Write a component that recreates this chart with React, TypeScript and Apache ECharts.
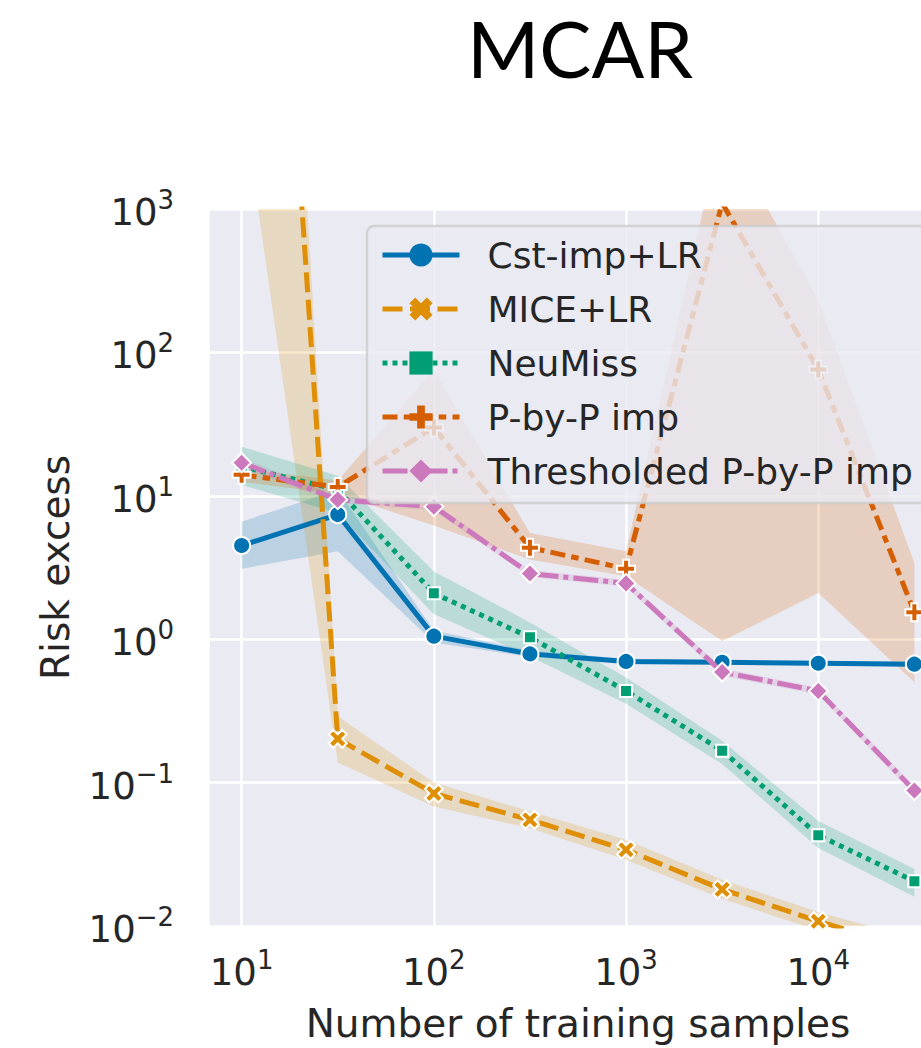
import React, { useEffect, useRef } from "react";
import * as echarts from "echarts";

// ---------- data ----------
const sampleSizes = [10, 31.62, 100, 316.2, 1000, 3162, 10000, 31623];
const seriesNames = ["Cst-imp+LR", "MICE+LR", "NeuMiss", "P-by-P imp", "Thresholded P-by-P imp"];
const seriesColors = ["#0173B2", "#DE8F05", "#029E73", "#D55E00", "#CC78BC"];

const cstMean = [4.5, 7.4, 1.05, 0.79, 0.7, 0.69, 0.68, 0.67];
const cstLow = [3.1, 4.1, 0.95, 0.75, 0.67, 0.665, 0.655, 0.645];
const cstHigh = [6.6, 11.0, 1.15, 0.83, 0.73, 0.715, 0.705, 0.695];

const miceMean = [1.8e9, 0.202, 0.084, 0.055, 0.034, 0.018, 0.0108, 0.0068];
const miceLow = [6300, 0.138, 0.068, 0.048, 0.029, 0.0155, 0.0093, 0.0056];
const miceHigh = [4.4e10, 0.29, 0.1, 0.063, 0.04, 0.021, 0.0125, 0.0082];

const neuMean = [16, 11, 2.09, 1.03, 0.435, 0.167, 0.043, 0.0205];
const neuLow = [11.9, 7.6, 1.49, 0.76, 0.354, 0.135, 0.035, 0.016];
const neuHigh = [22, 13.8, 2.97, 1.31, 0.54, 0.196, 0.054, 0.025];

const pbpMean = [14, 11.5, 30, 4.35, 3.1, 1100, 76, 1.54];
const pbpLow = [12.5, 10.3, 6.2, 3.6, 2.75, 0.97, 2.1, 0.5];
const pbpHigh = [15.5, 12.8, 75, 5.5, 4.1, 3800, 230, 3.4];

const thrMean = [17, 9.4, 8.4, 2.87, 2.45, 0.59, 0.435, 0.088];
const thrLow = [15.6, 8.9, 7.9, 2.72, 2.32, 0.555, 0.412, 0.082];
const thrHigh = [18.5, 9.9, 8.9, 3.03, 2.6, 0.625, 0.46, 0.094];

const xTickLabels = [10, 100, 1000, 10000];
const yTickLabels = [0.01, 0.1, 1, 10, 100, 1000];

const means = [cstMean, miceMean, neuMean, pbpMean, thrMean];
const lows = [cstLow, miceLow, neuLow, pbpLow, thrLow];
const highs = [cstHigh, miceHigh, neuHigh, pbpHigh, thrHigh];

// ---------- styles ----------
const PLUS = "path://M-10,-30H10V-10H30V10H10V30H-10V10H-30V-10H-10Z";
const XMARK =
  "path://M0,-14L14,-28L28,-14L14,0L28,14L14,28L0,14L-14,28L-28,14L-14,0L-28,-14L-14,-28Z";
const symbols = ["circle", XMARK, "rect", PLUS, "diamond"];
const symbolSizes = [17, 18, 12, 18, 19];
const dashes: any[] = ["solid", [20, 7.5], [5, 5], [15, 6.25, 7.5, 6.25], [25, 5, 5, 5]];

const TEXT = "#262626";
const FONT = "DejaVu Sans";

const supMap: Record<string, string> = { "-": "\u2212" };
function tickFormatter(list: number[]) {
  return (v: number) => {
    const hit = list.find((t) => Math.abs(Math.log10(t) - Math.log10(v)) < 1e-6);
    if (hit === undefined) return "";
    const e = Math.round(Math.log10(hit));
    const s = String(e)
      .split("")
      .map((c) => supMap[c] || c)
      .join("");
    return `{b|10}{s|${s}}`;
  };
}

const richTick = {
  b: { fontFamily: FONT, fontSize: 37, lineHeight: 44, verticalAlign: "bottom", color: TEXT },
  s: { fontFamily: FONT, fontSize: 26, lineHeight: 26, verticalAlign: "top", color: TEXT },
};

function hexToRgba(hex: string, a: number) {
  const n = parseInt(hex.slice(1), 16);
  return `rgba(${(n >> 16) & 255},${(n >> 8) & 255},${n & 255},${a})`;
}

export default function App() {
  const ref = useRef<HTMLDivElement>(null);

  useEffect(() => {
    if (!ref.current) return;
    const chart = echarts.init(ref.current, undefined, { renderer: "svg" });

    const bandSeries = seriesNames.map((name, k) => ({
      type: "custom",
      name: name + " band",
      coordinateSystem: "cartesian2d",
      clip: true,
      silent: true,
      z: 1,
      data: sampleSizes.map((x, i) => [x, lows[k][i], highs[k][i]]),
      encode: { x: 0, y: [1, 2] },
      renderItem: (params: any, api: any) => {
        if (params.dataIndex !== 0) return null;
        const up = sampleSizes.map((x, i) => api.coord([x, highs[k][i]]));
        const lo = sampleSizes.map((x, i) => api.coord([x, lows[k][i]])).reverse();
        return {
          type: "polygon",
          shape: { points: up.concat(lo) },
          style: { fill: hexToRgba(seriesColors[k], 0.2), stroke: "none" },
        };
      },
    }));

    const lineSeries = seriesNames.map((name, k) => ({
      type: "line",
      name,
      z: 2 + k * 0.01,
      data: sampleSizes.map((x, i) => [x, means[k][i]]),
      symbol: symbols[k],
      symbolSize: symbolSizes[k],
      showSymbol: true,
      showAllSymbol: true,
      clip: true,
      emphasis: { disabled: true },
      lineStyle: { color: seriesColors[k], width: 5, type: dashes[k], cap: "butt" },
      itemStyle: { color: seriesColors[k], borderColor: "#ffffff", borderWidth: 2 },
    }));

    chart.setOption({
      animation: false,
      backgroundColor: "#ffffff",
      title: {
        text: "MCAR",
        left: 575,
        top: 4,
        textAlign: "center",
        textStyle: { fontFamily: "Lato", fontSize: 78, fontWeight: "normal", color: "#000000" },
      },
      legend: {
        data: seriesNames,
        orient: "vertical",
        left: 367,
        top: 226,
        padding: [9, 20, 12, 13],
        itemWidth: 77,
        itemHeight: 29,
        itemGap: 14,
        selectedMode: false,
        backgroundColor: "rgba(234,234,242,0.8)",
        borderColor: "rgba(204,204,204,0.8)",
        borderWidth: 2.5,
        borderRadius: 7,
        lineStyle: { width: 5 },
        itemStyle: { borderWidth: 0 },
        textStyle: { fontFamily: FONT, fontSize: 36, color: TEXT, lineHeight: 40, padding: [0, 0, 0, 23] },
      },
      grid: {
        left: 208,
        top: 209,
        width: 740,
        height: 720,
        show: true,
        backgroundColor: "#EAEAF2",
        borderWidth: 0,
      },
      xAxis: {
        type: "log",
        logBase: 10,
        min: Math.pow(10, 0.825),
        max: Math.pow(10, 4.675),
        splitNumber: 4,
        name: "Number of training samples",
        nameLocation: "middle",
        nameGap: 78,
        nameTextStyle: { fontFamily: FONT, fontSize: 39, color: TEXT },
        axisLine: { show: false },
        axisTick: { show: false },
        minorTick: { show: false },
        minorSplitLine: { show: false },
        splitLine: { show: true, lineStyle: { color: "#ffffff", width: 2.5 } },
        axisLabel: { interval: 0, margin: 21, formatter: tickFormatter(xTickLabels), rich: richTick },
      },
      yAxis: {
        type: "log",
        logBase: 10,
        min: 0.01,
        max: 1000,
        splitNumber: 5,
        name: "Risk excess",
        nameLocation: "middle",
        nameRotate: 90,
        nameGap: 133,
        nameTextStyle: { fontFamily: FONT, fontSize: 39, color: TEXT },
        axisLine: { show: false },
        axisTick: { show: false },
        minorTick: { show: false },
        minorSplitLine: { show: false },
        splitLine: { show: true, lineStyle: { color: "#ffffff", width: 2.5 } },
        axisLabel: { interval: 0, margin: 34, formatter: tickFormatter(yTickLabels), rich: richTick },
      },
      series: [...bandSeries, ...lineSeries],
    });

    return () => chart.dispose();
  }, []);

  return (
    <div
      style={{
        position: "fixed",
        left: 0,
        top: 0,
        width: 921,
        height: 1048,
        overflow: "hidden",
        background: "#ffffff",
      }}
    >
      <div ref={ref} style={{ width: 1000, height: 1048 }} />
    </div>
  );
}
